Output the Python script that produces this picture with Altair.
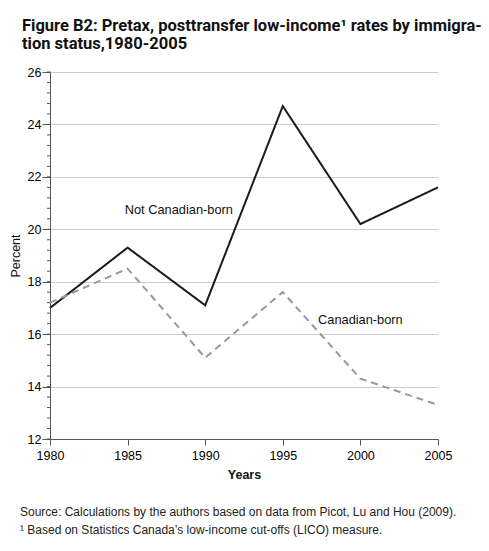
import altair as alt
import pandas as pd

years = [1980, 1985, 1990, 1995, 2000, 2005]
not_canadian_born = [17.0, 19.3, 17.1, 24.7, 20.2, 21.6]
canadian_born = [17.2, 18.5, 15.1, 17.6, 14.3, 13.3]

series_names = ["Not Canadian-born", "Canadian-born"]
label_x = [1988.3, 2000.0]
label_y = [20.75, 16.55]

y_major = [12, 14, 16, 18, 20, 22, 24, 26]
minor_ticks = [12 + 0.4 * i for i in range(36)]

title_lines = ["Figure B2: Pretax, posttransfer low-income\u00b9 rates by immigra-",
               "tion status,1980-2005"]
footnote_lines = [
    "Source: Calculations by the authors based on data from Picot, Lu and Hou (2009).",
    "\u00b9 Based on Statistics Canada\u2019s low-income cut-offs (LICO) measure.",
]

rows = []
for y, v in zip(years, not_canadian_born):
    rows.append({"year": y, "value": v, "series": series_names[0]})
for y, v in zip(years, canadian_born):
    rows.append({"year": y, "value": v, "series": series_names[1]})
df = pd.DataFrame(rows)
labels = pd.DataFrame({"series": series_names, "x": label_x, "value": label_y})
minor = pd.DataFrame({"value": minor_ticks})

W, H = 388, 367
FONT = "Liberation Sans"

xscale = alt.Scale(domain=[1980, 2005], nice=False, zero=False)
yscale = alt.Scale(domain=[12, 26], nice=False, zero=False)

xaxis = alt.Axis(title="Years", values=years, format="d", grid=False,
                 labelFont=FONT, labelFontSize=12.5, labelFontWeight="normal",
                 labelColor="#000", titleFont=FONT, titleFontSize=12.5,
                 titleFontWeight="bold", titleColor="#111", titlePadding=7,
                 domainColor="#555", tickColor="#555", tickSize=6,
                 labelPadding=4, labelFlush=False)
yaxis = alt.Axis(title="Percent", values=y_major, grid=True,
                 gridColor="#cccccc", gridWidth=1,
                 labelFont=FONT, labelFontSize=12.5, labelFontWeight="normal",
                 labelColor="#000", titleFont=FONT, titleFontSize=12.5,
                 titleFontWeight="normal", titleColor="#111", titlePadding=5,
                 domainColor="#555", tickColor="#555", tickSize=8,
                 labelPadding=1, labelFlush=False)

lines = alt.Chart(df).mark_line(strokeWidth=2).encode(
    x=alt.X("year:Q", scale=xscale, axis=xaxis),
    y=alt.Y("value:Q", scale=yscale, axis=yaxis),
    color=alt.Color("series:N", scale=alt.Scale(domain=series_names, range=["#1a1a1a", "#999999"]), legend=None),
    strokeDash=alt.StrokeDash("series:N", scale=alt.Scale(domain=series_names, range=[[1, 0], [7, 5]]), legend=None),
)

minor_rules = alt.Chart(minor).mark_rule(color="#555", strokeWidth=1).encode(
    y=alt.Y("value:Q", scale=yscale, axis=yaxis),
    x=alt.value(-3),
    x2=alt.value(1),
)

texts = alt.Chart(labels).mark_text(font=FONT, fontSize=12.8, color="#111").encode(
    x=alt.X("x:Q", scale=xscale, axis=xaxis),
    y=alt.Y("value:Q", scale=yscale, axis=yaxis),
    text="series:N",
)

foot1 = alt.Chart(pd.DataFrame({"t": [footnote_lines[0]]})).mark_text(
    font=FONT, fontSize=12, color="#222", align="left", baseline="middle").encode(
    text="t:N", x=alt.value(-30), y=alt.value(H + 73))
foot2 = alt.Chart(pd.DataFrame({"t": [footnote_lines[1]]})).mark_text(
    font=FONT, fontSize=12, color="#222", align="left", baseline="middle").encode(
    text="t:N", x=alt.value(-30), y=alt.value(H + 91))

chart = alt.layer(minor_rules, lines, texts, foot1, foot2).properties(
    width=W, height=H,
    autosize=alt.AutoSizeParams(type="none"),
    padding={"left": 42, "top": 64, "right": 43, "bottom": 104},
    title=alt.TitleParams(
        title_lines,
        anchor="start", frame="group", dx=-28, offset=14,
        font="Roboto", fontSize=16.5, fontWeight="bold", color="#111",
        lineHeight=18,
    ),
).configure_view(stroke=None)

chart.save("out.html", embed_options={"renderer": "svg", "actions": False})
